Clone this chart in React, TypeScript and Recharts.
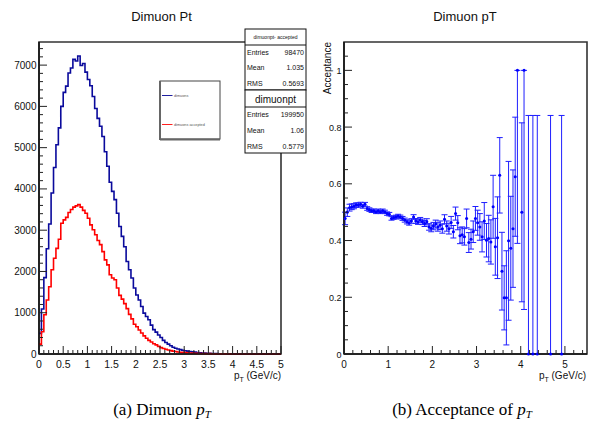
import { ComposedChart, Line, Scatter, XAxis, YAxis, ErrorBar, ReferenceArea } from 'recharts';

const SANS = 'Liberation Sans, Arial, Helvetica, sans-serif';
const SERIF = 'Liberation Serif, Times New Roman, serif';

// histogram binning: 100 bins of 0.05 GeV/c from 0 to 5
const BIN_WIDTH = 0.05;

const dimuons = [
  500, 1090, 1850, 2550, 3150, 3900, 4520, 5070, 5480, 6000,
  6340, 6490, 6810, 6930, 7140, 7100, 7220, 6990, 7040, 6830,
  6650, 6500, 6240, 5950, 5710, 5520, 5270, 4900, 4550, 4160,
  3940, 3740, 3410, 3090, 2850, 2600, 2240, 2040, 1840, 1600,
  1430, 1310, 1150, 990, 910, 830, 700, 590, 530, 460,
  400, 330, 280, 240, 200, 165, 140, 120, 105, 92,
  80, 70, 60, 52, 45, 38, 32, 26, 22, 19,
  16, 12, 13, 9, 3, 7, 6, 5, 2, 0,
  2, 1, 0, 1, 0, 1, 0, 1, 0, 0,
  0, 0, 0, 1, 0, 0, 0, 0, 1, 0,
];

const dimuonsAccepted = [
  240, 540, 950, 1310, 1630, 2040, 2320, 2560, 2780, 3170,
  3250, 3310, 3430, 3500, 3560, 3590, 3620, 3560, 3480, 3410,
  3290, 3130, 3010, 2890, 2750, 2650, 2480, 2280, 2160, 1920,
  1840, 1800, 1600, 1420, 1330, 1220, 1100, 960, 850, 720,
  660, 580, 510, 440, 380, 330, 290, 250, 220, 185,
  155, 135, 115, 98, 83, 70, 60, 50, 44, 40,
  36, 31, 26, 22, 18, 15, 13, 11, 9, 7,
  8, 4, 3, 2, 1, 3, 3, 3, 2, 0,
  1, 1, 0, 0, 0, 0, 0, 0, 0, 0,
  0, 0, 0, 0, 0, 0, 0, 0, 0, 0,
];

const histXLabels = [0, 0.5, 1, 1.5, 2, 2.5, 3, 3.5, 4, 4.5, 5];
const histYLabels = [0, 1000, 2000, 3000, 4000, 5000, 6000, 7000];

// acceptance per bin (bins 0..77)
const accValues = [
  0.478, 0.5, 0.516, 0.519, 0.521, 0.525, 0.525, 0.528, 0.521, 0.528,
  0.513, 0.509, 0.505, 0.505, 0.501, 0.505, 0.501, 0.505, 0.501, 0.495,
  0.493, 0.478, 0.481, 0.483, 0.486, 0.483, 0.478, 0.472, 0.466, 0.462,
  0.469, 0.483, 0.469, 0.466, 0.472, 0.466, 0.46, 0.466, 0.448, 0.443,
  0.451, 0.458, 0.448, 0.454, 0.442, 0.475, 0.451, 0.442, 0.464, 0.431,
  0.495, 0.463, 0.417, 0.42, 0.413, 0.478, 0.393, 0.405, 0.431, 0.478,
  0.463, 0.448, 0.413, 0.469, 0.401, 0.407, 0.395, 0.519, 0.378, 0.41,
  0.63, 0.292, 0.198, 0.198, 0.399, 0.373, 0.442, 0.625,
];
const accErrors = [
  0.022, 0.015, 0.012, 0.01, 0.009, 0.008, 0.0075, 0.007, 0.007, 0.0065,
  0.0063, 0.0062, 0.006, 0.006, 0.006, 0.006, 0.006, 0.006, 0.006, 0.006,
  0.0061, 0.0062, 0.0063, 0.0065, 0.0066, 0.0067, 0.0069, 0.0071, 0.0074, 0.0077,
  0.008, 0.0082, 0.0086, 0.009, 0.0094, 0.0098, 0.0105, 0.011, 0.0115, 0.012,
  0.013, 0.014, 0.015, 0.015, 0.016, 0.016, 0.018, 0.019, 0.021, 0.022,
  0.023, 0.025, 0.028, 0.028, 0.029, 0.033, 0.035, 0.035, 0.038, 0.042,
  0.044, 0.047, 0.053, 0.065, 0.059, 0.082, 0.078, 0.111, 0.1, 0.144,
  0.133, 0.137, 0.113, 0.166, 0.28, 0.183, 0.207, 0.21,
];
// sparse high-pT points with asymmetric errors
const accTailPt = [3.925, 4.025, 4.075, 4.175, 4.275, 4.375, 4.675, 4.925];
const accTailValues = [1, 0.5, 1, 0, 0, 0, 0, 0];
const accTailErrLow = [0.61, 0.316, 0.843, 0, 0, 0, 0, 0];
const accTailErrHigh = [0, 0.315, 0, 0.841, 0.841, 0.841, 0.841, 0.841];

const accXLabels = [0, 1, 2, 3, 4, 5];
const accYLabels = [0, 0.2, 0.4, 0.6, 0.8, 1];

const statLabels = ['Entries', 'Mean', 'RMS'];
const statsAccepted = ['98470', '1.035', '0.5693'];
const statsAll = ['199950', '1.06', '0.5779'];

// minor tick positions (axis decoration only)
const histXTicks = Array.from({ length: 51 }, (_, i) => Number((i * 0.1).toFixed(2)));
const histYTicks = Array.from({ length: 38 }, (_, i) => i * 200);
const accXTicks = Array.from({ length: 28 }, (_, i) => Number((i * 0.2).toFixed(2)));
const accYTicks = Array.from({ length: 22 }, (_, i) => Number((i * 0.05).toFixed(2)));

const histData = dimuons.map((v, i) => ({
  x: Number((i * BIN_WIDTH).toFixed(2)),
  blue: v,
  red: dimuonsAccepted[i],
}));
histData.push({ x: 5, blue: dimuons[dimuons.length - 1], red: dimuonsAccepted[dimuonsAccepted.length - 1] });

const accData = [
  ...accValues.map((v, i) => ({
    pt: BIN_WIDTH * (i + 0.5),
    acc: v,
    err: [accErrors[i], accErrors[i]],
    xerr: BIN_WIDTH / 2,
  })),
  ...accTailPt.map((pt, i) => ({
    pt,
    acc: accTailValues[i],
    err: [accTailErrLow[i], accTailErrHigh[i]],
    xerr: BIN_WIDTH / 2,
  })),
];

const fmt = (v: number) => String(Number(v.toFixed(3)));
const isMajor = (v: number, majors: number[]) => majors.some((m) => Math.abs(m - v) < 1e-6);

function bottomTick(majors: number[], fontSize: number) {
  return (props: any) => {
    const { x, y, payload } = props;
    const major = isMajor(payload.value, majors);
    return (
      <g>
        <line x1={x} x2={x} y1={y} y2={y - (major ? 8 : 4)} stroke="#222" strokeWidth={1} />
        {major && (
          <text x={x} y={y + 14} textAnchor="middle" fontSize={fontSize} fontFamily={SANS} fill="#111">
            {fmt(payload.value)}
          </text>
        )}
      </g>
    );
  };
}

function leftTick(majors: number[], fontSize: number) {
  return (props: any) => {
    const { x, y, payload } = props;
    const major = isMajor(payload.value, majors);
    return (
      <g>
        <line x1={x} x2={x + (major ? 8 : 4)} y1={y} y2={y} stroke="#222" strokeWidth={1} />
        {major && (
          <text x={x - 2.5} y={y + 3.5} textAnchor="end" fontSize={fontSize} fontFamily={SANS} fill="#111">
            {fmt(payload.value)}
          </text>
        )}
      </g>
    );
  };
}

const dot = (props: any) => <circle cx={props.cx} cy={props.cy} r={1.5} fill="#0000ff" />;

function StatBox() {
  const rows1 = [54.5, 70, 85.5];
  const rows2 = [116.5, 132.5, 148.5];
  return (
    <g fontFamily={SANS} fill="#111">
      <rect x={245} y={29} width={61} height={61} fill="#fff" stroke="#111" strokeWidth={1} />
      <text x={275.5} y={39} fontSize={5} textAnchor="middle">dimuonpt- accepted</text>
      <line x1={245} x2={306} y1={45} y2={45} stroke="#111" />
      {statLabels.map((l, i) => (
        <g key={l}>
          <text x={247} y={rows1[i]} fontSize={7}>{l}</text>
          <text x={304} y={rows1[i]} fontSize={7} textAnchor="end">{statsAccepted[i]}</text>
        </g>
      ))}
      <rect x={245} y={90} width={61} height={63} fill="#fff" stroke="#111" strokeWidth={1} />
      <text x={275.5} y={102.5} fontSize={10} textAnchor="middle">dimuonpt</text>
      <line x1={245} x2={306} y1={107} y2={107} stroke="#111" />
      {statLabels.map((l, i) => (
        <g key={l}>
          <text x={247} y={rows2[i]} fontSize={7}>{l}</text>
          <text x={304} y={rows2[i]} fontSize={7} textAnchor="end">{statsAll[i]}</text>
        </g>
      ))}
    </g>
  );
}

function Legend() {
  return (
    <g fontFamily={SANS}>
      <rect x={160} y={81} width={60} height={58} fill="#fff" stroke="#444" strokeWidth={1} />
      <line x1={160} x2={160} y1={81} y2={140} stroke="#666" strokeWidth={2} />
      <line x1={160} x2={220} y1={139.5} y2={139.5} stroke="#666" strokeWidth={2} />
      <line x1={162} x2={172.5} y1={95.5} y2={95.5} stroke="#2020a0" strokeWidth={1} />
      <text x={174} y={96.8} fontSize={3.8} fill="#555">dimuons</text>
      <line x1={162} x2={172.5} y1={124.5} y2={124.5} stroke="#ff2020" strokeWidth={1} />
      <text x={174} y={125.8} fontSize={3.8} fill="#555">dimuons accepted</text>
    </g>
  );
}

function PtLabel({ x, y }: { x: number; y: number }) {
  return (
    <text x={x} y={y} textAnchor="end" fontSize={10} fontFamily={SANS} fill="#111">
      p<tspan fontSize={7} dy={2.5}>T</tspan>
      <tspan dy={-2.5}> (GeV/c)</tspan>
    </text>
  );
}

export default function App() {
  return (
    <div style={{ position: 'absolute', left: 0, top: 0, width: 595, height: 432, background: '#fff', overflow: 'hidden' }}>
      {/* left pad: dimuon pT spectra */}
      <div style={{ position: 'absolute', left: 0, top: 0 }}>
        <ComposedChart width={300} height={400} data={histData} margin={{ top: 42, right: 19, bottom: 0, left: 0 }}>
          <ReferenceArea x1={0} x2={5} y1={0} y2={7560} fill="none" stroke="#333" strokeWidth={1.6} ifOverflow="visible" />
          <XAxis
            dataKey="x"
            type="number"
            domain={[0, 5]}
            ticks={histXTicks}
            interval={0}
            height={46}
            tickSize={0}
            tickMargin={0}
            tickLine={false}
            axisLine={{ stroke: '#111', strokeWidth: 1.5 }}
            tick={bottomTick(histXLabels, 10.5)}
          />
          <YAxis
            type="number"
            domain={[0, 7560]}
            ticks={histYTicks}
            interval={0}
            width={39}
            tickSize={0}
            tickMargin={0}
            tickLine={false}
            axisLine={{ stroke: '#111', strokeWidth: 1.5 }}
            tick={leftTick(histYLabels, 10)}
          />
          <Line type="stepAfter" dataKey="blue" stroke="#0a0a9c" strokeWidth={1.6} dot={false} isAnimationActive={false} />
          <Line type="stepAfter" dataKey="red" stroke="#ff0000" strokeWidth={1.6} dot={false} isAnimationActive={false} />
        </ComposedChart>
      </div>

      {/* right pad: acceptance */}
      <div style={{ position: 'absolute', left: 300, top: 0 }}>
        <ComposedChart width={295} height={400} margin={{ top: 42, right: 8, bottom: 0, left: 0 }}>
          <ReferenceArea x1={0} x2={5.5} y1={0} y2={1.1} fill="none" stroke="#333" strokeWidth={1.6} ifOverflow="visible" />
          <XAxis
            dataKey="pt"
            type="number"
            domain={[0, 5.5]}
            ticks={accXTicks}
            interval={0}
            height={46}
            tickSize={0}
            tickMargin={0}
            tickLine={false}
            axisLine={{ stroke: '#111', strokeWidth: 1.5 }}
            tick={bottomTick(accXLabels, 10)}
          />
          <YAxis
            dataKey="acc"
            type="number"
            domain={[0, 1.1]}
            ticks={accYTicks}
            interval={0}
            width={44}
            tickSize={0}
            tickMargin={0}
            tickLine={false}
            axisLine={{ stroke: '#111', strokeWidth: 1.5 }}
            tick={leftTick(accYLabels, 9)}
          />
          <Scatter data={accData} dataKey="acc" shape={dot} isAnimationActive={false}>
            <ErrorBar dataKey="err" direction="y" width={3} stroke="#1f1fff" strokeWidth={1} />
            <ErrorBar dataKey="xerr" direction="x" width={0} stroke="#1f1fff" strokeWidth={1} />
          </Scatter>
        </ComposedChart>
      </div>

      <svg width={595} height={432} style={{ position: 'absolute', left: 0, top: 0, pointerEvents: 'none' }}>
        <text x={161.5} y={20.5} textAnchor="middle" fontSize={13} fontFamily={SANS} fill="#111">Dimuon Pt</text>
        <text x={465} y={20.5} textAnchor="middle" fontSize={13} fontFamily={SANS} fill="#111">Dimuon pT</text>
        <StatBox />
        <Legend />
        <PtLabel x={281} y={379} />
        <PtLabel x={586} y={379} />
        <text transform="translate(331,42) rotate(-90)" textAnchor="end" fontSize={10} fontFamily={SANS} fill="#111">
          Acceptance
        </text>
        <text x={162} y={415} textAnchor="middle" fontSize={17} fontFamily={SERIF} fill="#000">
          (a)  Dimuon <tspan fontStyle="italic">p</tspan>
          <tspan fontStyle="italic" fontSize={11} dy={3}>T</tspan>
        </text>
        <text x={462} y={415} textAnchor="middle" fontSize={17} fontFamily={SERIF} fill="#000">
          (b)  Acceptance of <tspan fontStyle="italic">p</tspan>
          <tspan fontStyle="italic" fontSize={11} dy={3}>T</tspan>
        </text>
      </svg>
    </div>
  );
}
